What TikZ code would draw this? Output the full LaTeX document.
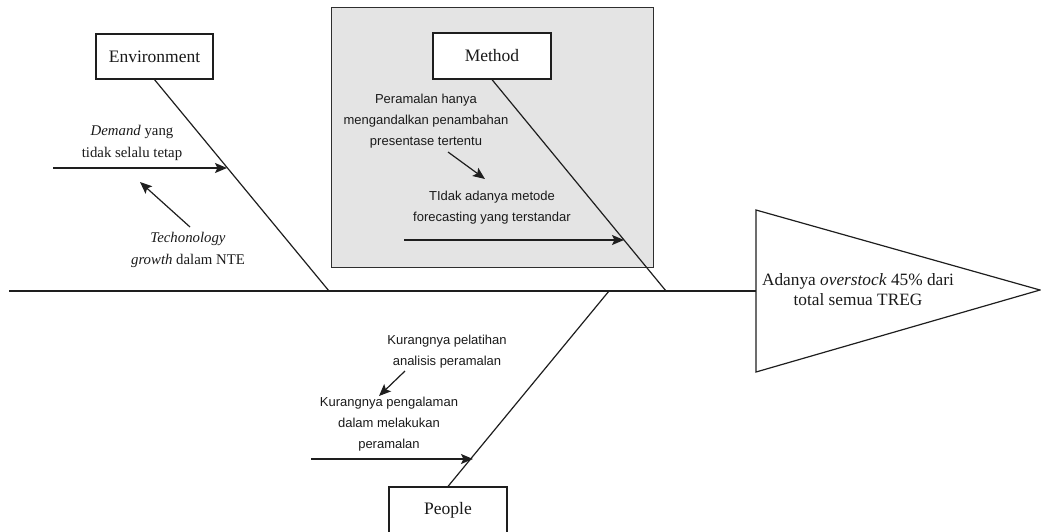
\documentclass[tikz,border=0pt]{standalone}
\usepackage{fontspec}
\setmainfont{Liberation Serif}
\newfontfamily\arialfont{Liberation Sans}
\usetikzlibrary{arrows.meta}
\definecolor{lineclr}{HTML}{1E1E1E}
\definecolor{panelfill}{HTML}{E4E4E4}
\definecolor{panelline}{HTML}{2E2E2E}
\definecolor{txtclr}{HTML}{1A1A1A}
\begin{document}
\begin{tikzpicture}[x=1pt,y=-1pt,
  catbox/.style={draw=lineclr,line width=1.2pt,fill=white,minimum width=117pt,minimum height=45pt,inner sep=0pt,font=\fontsize{17.5}{21}\selectfont,text=txtclr},
  serifnote/.style={align=center,inner sep=0pt,font=\fontsize{14.8}{22}\selectfont,text=txtclr},
  sansnote/.style={align=center,inner sep=0pt,font=\arialfont\fontsize{13}{21}\selectfont,text=txtclr},
  bone/.style={draw=lineclr,line width=1.2pt},
  causearrow/.style={draw=lineclr,line width=1.2pt,-{Stealth[length=12pt,width=10pt,inset=2.5pt]}}
]
\useasboundingbox (0,0) rectangle (1041,531);
% gray panel
\node[draw=panelline,fill=panelfill,line width=1.2pt,minimum width=322pt,minimum height=260pt,inner sep=0pt] (panel) at (492.5,137.5) {};
% category boxes
\node[catbox] (env) at (154.5,56.5) {Environment};
\node[catbox,minimum width=118pt,minimum height=46pt] (method) at (492,56) {Method};
\node[catbox,minimum width=118pt,minimum height=46pt] (people) at (448,510) {People};
% spine and head
\coordinate (tail) at (9,291);
\coordinate (head) at (756,291);
\coordinate (headtop) at (756,210);
\coordinate (tip) at (1040,290);
\coordinate (headbot) at (756,372);
\draw[bone] (tail) -- (head);
\draw[bone,line join=miter] (headtop) -- (tip) -- (headbot) -- cycle;
\node[align=center,inner sep=0pt,font=\fontsize{17.3}{20}\selectfont,text=txtclr] (effect) at (858,290) {Adanya \textit{overstock} 45\% dari\\total semua TREG};
% bones
\coordinate (envend) at (329,291);
\coordinate (methodend) at (666,291);
\coordinate (peopleend) at (609,291);
\draw[bone] (env.south) -- (envend);
\draw[bone] (method.south) -- (methodend);
\draw[bone] (people.north) -- (peopleend);
% environment causes
\node[serifnote] (demand) at (132,143) {\textit{Demand} yang\\tidak selalu tetap};
\node[serifnote] (tech) at (188,250) {\textit{Techonology}\\\textit{growth} dalam NTE};
\coordinate (demandstart) at (53,168);
\coordinate (demandend) at (227,168);
\draw[causearrow] (demandstart) -- (demandend);
\coordinate (techstart) at (190,227);
\coordinate (techend) at (140,182);
\draw[causearrow] (techstart) -- (techend);
% method causes
\node[sansnote] (peramalan) at (426,121) {Peramalan hanya\\mengandalkan penambahan\\presentase tertentu};
\node[sansnote] (tidak) at (492,207.5) {TIdak adanya metode\\forecasting yang terstandar};
\coordinate (pstart) at (448,152);
\coordinate (pend) at (485,179);
\draw[causearrow] (pstart) -- (pend);
\coordinate (tstart) at (404,240);
\coordinate (tend) at (624,240);
\draw[causearrow] (tstart) -- (tend);
% people causes
\node[sansnote] (pelatihan) at (447,351.5) {Kurangnya pelatihan\\analisis peramalan};
\node[sansnote] (pengalaman) at (389,424) {Kurangnya pengalaman\\dalam melakukan\\peramalan};
\coordinate (kstart) at (405,371);
\coordinate (kend) at (379,396);
\draw[causearrow] (kstart) -- (kend);
\coordinate (gstart) at (311,459);
\coordinate (gend) at (473,459);
\draw[causearrow] (gstart) -- (gend);
\end{tikzpicture}
\end{document}
